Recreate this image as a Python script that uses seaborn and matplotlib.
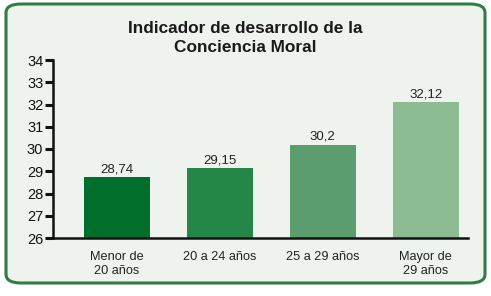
import matplotlib
matplotlib.use("Agg")
import matplotlib.pyplot as plt
import seaborn as sns
import pandas as pd
from matplotlib.patches import FancyBboxPatch

# Datos del gráfico
categorias = ["Menor de\n20 años", "20 a 24 años", "25 a 29 años", "Mayor de\n29 años"]
valores = [28.74, 29.15, 30.2, 32.12]
etiquetas = ["28,74", "29,15", "30,2", "32,12"]
colores = ["#006f2b", "#248748", "#5b9d6e", "#8dbb92"]

df = pd.DataFrame({"Edad": categorias, "Indicador": valores})

sns.set_style("white")
plt.rcParams["font.family"] = ["Liberation Sans", "DejaVu Sans"]

fondo = "#eff3ee"
fig = plt.figure(figsize=(4.91, 2.96), dpi=100)
fig.patch.set_facecolor("white")

# Marco redondeado verde
marco = FancyBboxPatch((6 / 491, 13 / 296), 479 / 491, 279 / 296,
                       boxstyle="round,pad=0,rounding_size=0.03",
                       transform=fig.transFigure, facecolor=fondo,
                       edgecolor="#2f7c45", linewidth=2.2, zorder=-5)
fig.patches.append(marco)

fig.text(0.5, 0.905, "Indicador de desarrollo de la", ha="center", va="center",
         fontsize=12.4, fontweight="bold", color="#1a1a1a")
fig.text(0.5, 0.84, "Conciencia Moral", ha="center", va="center",
         fontsize=12.4, fontweight="bold", color="#1a1a1a")

ax = fig.add_axes([53 / 491, 1 - 238 / 296, (468 - 53) / 491, (238 - 60) / 296])
ax.set_facecolor("none")
ax.set_zorder(2)

sns.barplot(data=df, x="Edad", y="Indicador", hue="Edad", palette=colores,
            width=0.64, dodge=False, legend=False, ax=ax, saturation=1,
            linewidth=0)

ax.set_ylim(26, 34)
ax.set_xlim(-0.62, 3.41)
ax.set_yticks(range(26, 35))
ax.set_xlabel("")
ax.set_ylabel("")

for i, (v, t) in enumerate(zip(valores, etiquetas)):
    ax.text(i, v + 0.08, t, ha="center", va="bottom", fontsize=9.5, color="#222222")

for s in ["top", "right"]:
    ax.spines[s].set_visible(False)
ax.spines["left"].set_linewidth(1.8)
ax.spines["bottom"].set_linewidth(1.8)
ax.spines["left"].set_color("#111111")
ax.spines["bottom"].set_color("#111111")
ax.tick_params(axis="y", left=True, direction="out", length=6, width=2.2,
               labelsize=10.5, colors="#111111", pad=1)
ax.tick_params(axis="x", bottom=False, labelsize=9.2, pad=6, colors="#222222")

fig.savefig("out.png", dpi=100, facecolor="white")
